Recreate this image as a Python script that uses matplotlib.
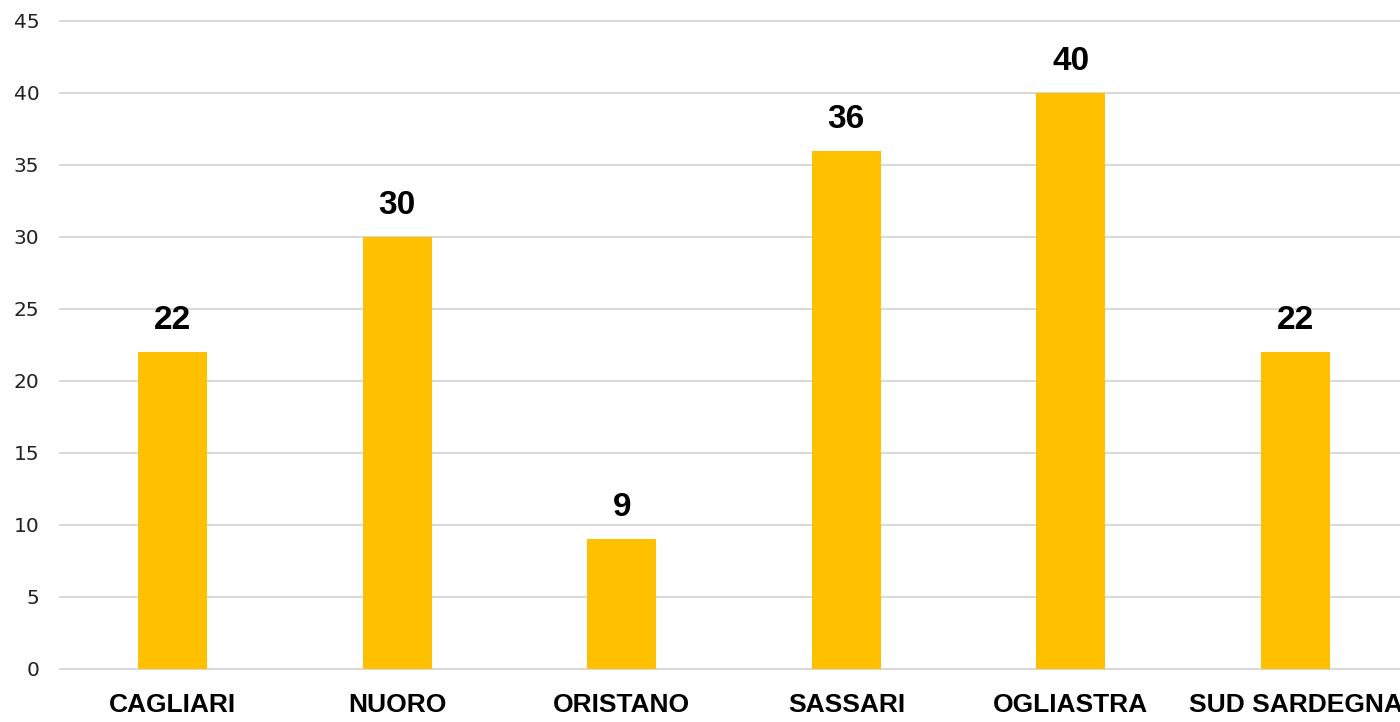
import matplotlib
matplotlib.use("Agg")
import matplotlib.pyplot as plt
import numpy as np

categories = ["CAGLIARI", "NUORO", "ORISTANO", "SASSARI", "OGLIASTRA", "SUD SARDEGNA"]
values = [22, 30, 9, 36, 40, 22]
yticks = [0, 5, 10, 15, 20, 25, 30, 35, 40, 45]

fig = plt.figure(figsize=(14, 7.22), dpi=100)
ax = fig.add_axes([60.2 / 1400, 53 / 722, (1400 - 60.2) / 1400, 648 / 722])

x = np.arange(len(categories))
bars = ax.bar(x, values, width=0.307, color="#FFC000", zorder=2)

for xi, v in zip(x, values):
    ax.annotate(str(v), xy=(xi, v), xytext=(0, 16.5), textcoords="offset points",
                ha="center", va="baseline", fontsize=24, fontweight="bold",
                family="Liberation Sans", color="black")

ax.set_xlim(-0.5, 5.5 - 7.8 / 224.6)
ax.set_ylim(0, 45)
ax.set_yticks(yticks)
ax.yaxis.grid(True, color="#D9D9D9", linewidth=1.5, zorder=0)
for gl in ax.get_ygridlines():
    gl.set_clip_on(False)
ax.set_axisbelow(True)
for s in ax.spines.values():
    s.set_visible(False)

ax.set_xticks(x)
ax.set_xticklabels(categories, fontsize=19, fontweight="bold", family="Liberation Sans")
ax.tick_params(axis="x", length=0, pad=17)
ax.tick_params(axis="y", length=0, pad=15, labelsize=14.5, labelcolor="#222222")

fig.savefig("out.png", dpi=100)
